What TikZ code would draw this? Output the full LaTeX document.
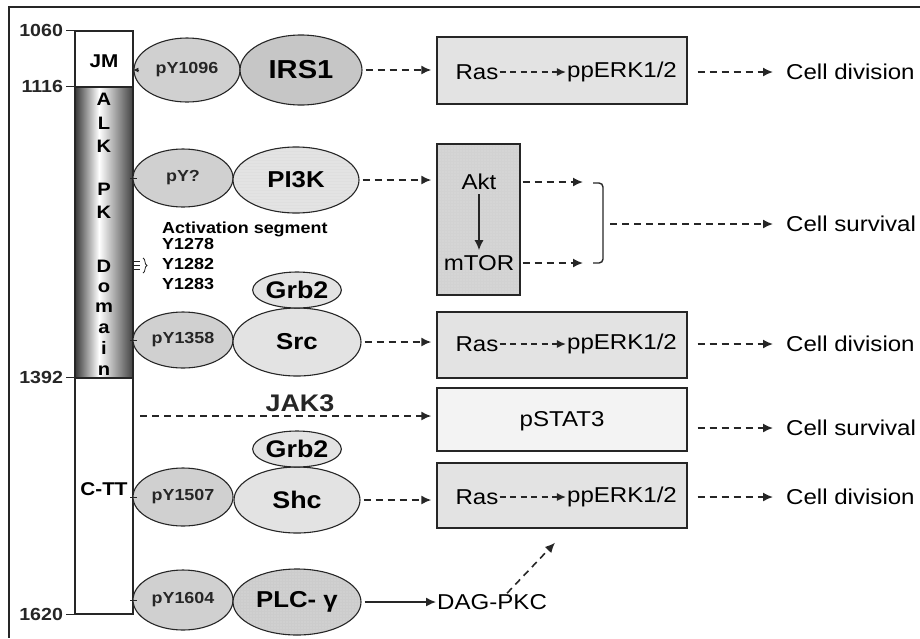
\documentclass[tikz,border=0pt]{standalone}
\usepackage{fontspec}
\newfontfamily\alk[FakeStretch=1.12]{Liberation Sans}
\usetikzlibrary{arrows.meta,shapes.geometric,patterns,decorations.pathreplacing}
\definecolor{cline}{HTML}{262626}
\definecolor{cgrey}{HTML}{D0D0D0}
\definecolor{clite}{HTML}{E3E3E3}
\definecolor{cpale}{HTML}{F3F3F3}

\begin{document}
\begin{tikzpicture}[x=1pt, y=-1pt,
  colbox/.style = {rectangle, draw=cline, line width=1.3pt, inner sep=0pt,
                   minimum width=58pt},
  num/.style  = {inner sep=1pt, font=\alk\bfseries\fontsize{17.5}{19}\selectfont},
  py/.style   = {ellipse, draw=cline, line width=1.1pt, fill=cgrey, inner sep=0pt,
                 minimum width=100pt, minimum height=58pt, text=black!85,
                 font=\alk\bfseries\fontsize{16}{18}\selectfont},
  prot/.style = {ellipse, draw=cline, line width=1.1pt, fill=clite, inner sep=0pt,
                 font=\alk\bfseries\fontsize{23}{25}\selectfont},
  lbl/.style  = {inner sep=1pt, font=\alk\bfseries\fontsize{16}{20}\selectfont},
  box/.style  = {rectangle, draw=cline, line width=1.4pt, inner sep=0pt},
  txt/.style  = {inner sep=1pt, font=\alk\fontsize{21.5}{23}\selectfont},
  cell/.style = {txt, anchor=west},
  darr/.style = {-{Latex[length=10pt, width=9pt]}, line width=1.6pt, cline,
                 dash pattern=on 7pt off 5pt},
  rarr/.style = {-{Latex[length=9pt, width=8pt]}, line width=1.3pt, cline,
                 dash pattern=on 6pt off 4.5pt},
  sarr/.style = {-{Latex[length=10pt, width=9pt]}, line width=1.4pt, cline}
]
\useasboundingbox (0,0) rectangle (920,638);
\draw[line width=1.6pt, cline] (920,7) -- (9,7) -- (9,638);

% receptor column
\foreach \i in {0,...,57} {
  \pgfmathsetmacro\shd{\i<24 ? 78*(24-\i)/24 : 72*(\i-24)/33}
  \fill[black!\shd] (75+\i,87) rectangle (76.3+\i,378);
}
\node[colbox, fill=white, minimum height=56pt] (jm) at (104,59) {};
\node[colbox, minimum height=291pt] (kd) at (104,232.5) {};
\node[colbox, fill=white, minimum height=236pt] (ctt) at (104,496) {};
\node[num, font=\alk\bfseries\fontsize{18.5}{20}\selectfont] (jmt) at (104,61) {JM};
\node[num, font=\alk\bfseries\fontsize{18.5}{20}\selectfont] (cttt) at (104,489) {C-TT};
\foreach \ch/\yy in {A/105, L/129, K/152, P/195, K/218, D/272, o/292, m/312, a/333, i/354, n/375}
  \node[num, anchor=base, font=\alk\bfseries\fontsize{18}{20}\selectfont] at (104,\yy) {\ch};

\draw[thick, cline] (jm.north west) -- ++(-8,0) node[num, left=2pt] (t1060) {1060};
\draw[thick, cline] (kd.north west) -- ++(-8,0) node[num, left=2pt] (t1116) {1116};
\draw[thick, cline] (ctt.north west) -- ++(-8,0) node[num, left=2pt] (t1392) {1392};
\draw[thick, cline] (ctt.south west) -- ++(-8,0) node[num, left=2pt] (t1620) {1620};

% docking sites and partners
\node[py, minimum width=106pt, minimum height=64pt] (y1096) at (187,70) {pY1096};
\node[prot, fill=cgrey!95!black, minimum width=122pt, minimum height=70pt,
      font=\alk\bfseries\fontsize{26}{28}\selectfont] (irs) at (301,70) {IRS1};
\node[py] (yq) at (183,178) {pY?\hspace{24pt}};
\node[prot, fill=none, preaction={fill=clite}, pattern=horizontal lines, pattern color=gray!25,
      minimum width=126pt, minimum height=66pt] (pik) at (296,180) {PI3K};
\node[py, minimum height=56pt] (y1358) at (183,340) {pY1358};
\node[prot, minimum width=128pt, minimum height=68pt] (src) at (297,342) {Src};
\node[prot, minimum width=84pt, minimum height=36pt,
      font=\alk\bfseries\fontsize{24}{26}\selectfont] (grbA) at (297,290) {Grb2};
\node[py] (y1507) at (183,497) {pY1507};
\node[prot, minimum width=126pt, minimum height=66pt,
      font=\alk\bfseries\fontsize{24}{26}\selectfont] (shc) at (297,500) {Shc};
\node[prot, minimum width=84pt, minimum height=36pt,
      font=\alk\bfseries\fontsize{24}{26}\selectfont] (grbB) at (297,449) {Grb2};
\node[py, minimum height=60pt] (y1604) at (183,600) {pY1604};
\node[prot, fill=none, preaction={fill=cgrey}, pattern=grid, pattern color=gray!40,
      minimum width=128pt, minimum height=66pt] (plc) at (297,602) {PLC- γ};

\draw[-{Latex[length=5pt, width=5pt]}, thick, cline] ([xshift=6pt]y1096.west) -- (y1096.west);
\foreach \e in {yq, y1358, y1507, y1604}
  \draw[thick, cline] ([xshift=-2pt]\e.west) -- ++(7,0);

% activation loop
\node[lbl, anchor=west] (actv) at (161,229) {Activation segment};
\node[lbl, anchor=north west, align=left] (tyr) at (161,237) {Y1278\\Y1282\\Y1283};
\foreach \yy in {261,265,269}
  \draw[cline] (132,\yy) -- (140,\yy);
\draw[thick, cline, decorate, decoration={brace, amplitude=4pt}] (143,258) -- (143,273);

% downstream boxes
\node[box, fill=clite, minimum width=250pt, minimum height=67pt] (erkA) at (562,70.5) {};
\node[txt] (rasA) at (477,72) {Ras};
\node[txt] (ppA) at (622,72) {ppERK1/2};
\draw[rarr] (rasA) -- (ppA);

\node[box, preaction={fill=cgrey!90}, pattern=grid, pattern color=gray!35,
      minimum width=83pt, minimum height=151pt] (akb) at (478.5,219.5) {};
\node[txt] (akt) at (479,182) {Akt};
\node[txt] (mtor) at (479,263) {mTOR};
\draw[sarr, shorten <=3pt, shorten >=4pt] (akt) -- (mtor);

\node[box, fill=clite, minimum width=250pt, minimum height=66pt] (erkB) at (562,345) {};
\node[txt] (rasB) at (477,344) {Ras};
\node[txt] (ppB) at (622,344) {ppERK1/2};
\draw[rarr] (rasB) -- (ppB);

\node[box, fill=cpale, minimum width=250pt, minimum height=63pt] (stat) at (562,419.5) {};
\node[txt] (pst) at (562,421) {pSTAT3};

\node[box, fill=clite, minimum width=250pt, minimum height=65pt] (erkC) at (562,495.5) {};
\node[txt] (rasC) at (477,497) {Ras};
\node[txt] (ppC) at (622,497) {ppERK1/2};
\draw[rarr] (rasC) -- (ppC);

\node[txt, anchor=west] (dag) at (436,602) {DAG-PKC};

% outcomes
\node[cell] (divA) at (785,72) {Cell division};
\node[cell] (survA) at (785,224) {Cell survival};
\node[cell] (divB) at (785,344) {Cell division};
\node[cell] (survB) at (785,428) {Cell survival};
\node[cell] (divC) at (785,497) {Cell division};

% signalling arrows
\draw[darr, shorten <=3pt, shorten >=5pt] (irs) -- (irs -| erkA.west);
\draw[darr, shorten <=3pt, shorten >=5pt] (pik) -- (pik -| akb.west);
\draw[darr, shorten <=3pt, shorten >=5pt] (src) -- (src -| erkB.west);
\draw[darr, shorten <=3pt, shorten >=5pt] (shc) -- (shc -| erkC.west);
\coordinate (jk) at (140,416);
\draw[darr, shorten >=5pt] (jk) -- (jk -| stat.west)
  node[pos=0.54, above=2pt, lbl, font=\alk\bfseries\fontsize{24}{26}\selectfont] (jak) {JAK3};
\draw[sarr, shorten <=3pt] (plc) -- (dag);
\draw[darr] ([xshift=15pt]dag.north) -- ([xshift=-7pt, yshift=-14pt]erkC.south);

\coordinate (akE) at (583,182);
\coordinate (mtE) at (583,263);
\draw[darr, shorten <=2pt] (akt -| akb.east) -- (akE);
\draw[darr, shorten <=2pt] (mtor -| akb.east) -- (mtE);
\draw[line width=1.4pt, cline, rounded corners=4pt] (593,183) -- (603,183) -- (603,263) -- (593,263);
\coordinate (brm) at (603,224);
\draw[darr, shorten <=7pt, shorten >=12pt] (brm) -- (survA.west);

\draw[darr, shorten <=10pt, shorten >=12pt] (erkA.east |- divA.west) -- (divA.west);
\draw[darr, shorten <=10pt, shorten >=12pt] (erkB.east |- divB.west) -- (divB.west);
\draw[darr, shorten <=10pt, shorten >=12pt] (stat.east |- survB.west) -- (survB.west);
\draw[darr, shorten <=10pt, shorten >=12pt] (erkC.east |- divC.west) -- (divC.west);
\end{tikzpicture}
\end{document}
